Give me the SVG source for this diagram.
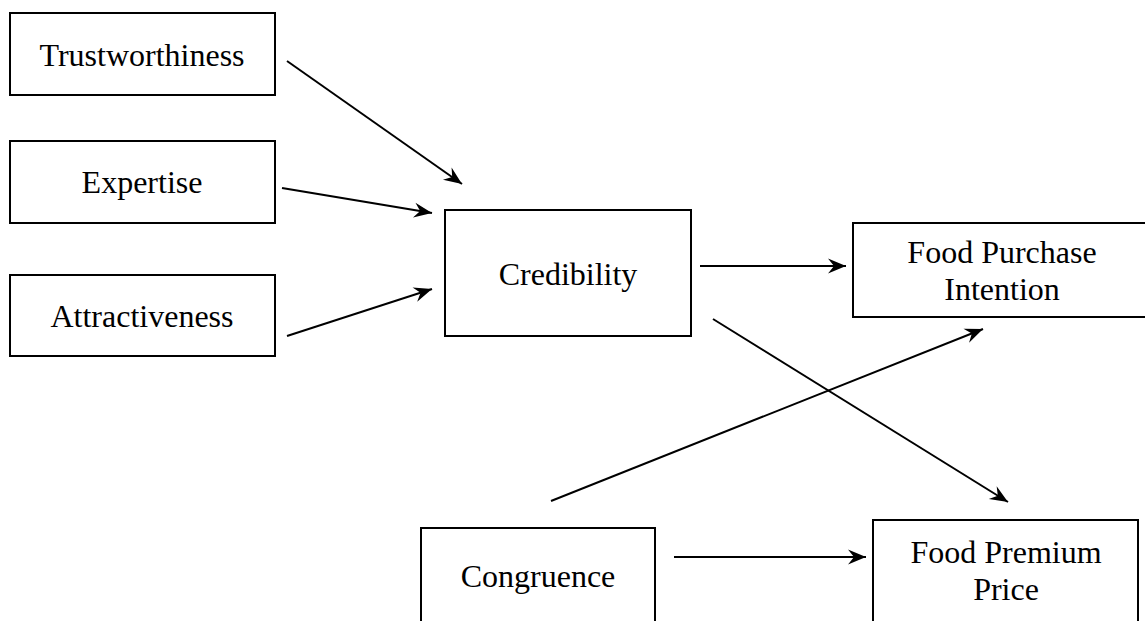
<svg xmlns="http://www.w3.org/2000/svg" width="1145" height="621" viewBox="0 0 1145 621">
<style>
.box{fill:#fff;stroke:#000;stroke-width:2}
.lbl{font-family:"Liberation Serif","Times New Roman",serif;font-size:32px;fill:#000;text-anchor:middle}
.edge{stroke:#000;stroke-width:2;fill:none;marker-end:url(#ah)}
</style>
<defs>
<marker id="ah" markerUnits="userSpaceOnUse" markerWidth="22" markerHeight="18" viewBox="-20 -9 22 18" refX="0" refY="0" orient="auto">
<path d="M0,0 L-18,-7.5 L-12,0 L-18,7.5 Z" fill="#000"/>
</marker>
</defs>
<g id="trustworthiness"><rect class="box" x="10" y="13" width="265" height="82"/><text class="lbl" x="142" y="66">Trustworthiness</text></g>
<g id="expertise"><rect class="box" x="10" y="141" width="265" height="82"/><text class="lbl" x="142" y="193">Expertise</text></g>
<g id="attractiveness"><rect class="box" x="10" y="275" width="265" height="81"/><text class="lbl" x="142" y="327">Attractiveness</text></g>
<g id="credibility"><rect class="box" x="445" y="210" width="246" height="126"/><text class="lbl" x="568" y="285">Credibility</text></g>
<g id="food-purchase-intention"><rect class="box" x="853" y="223" width="298" height="94"/><text class="lbl" x="1002" y="263">Food Purchase</text><text class="lbl" x="1002" y="300">Intention</text></g>
<g id="congruence"><rect class="box" x="421" y="528" width="234" height="100"/><text class="lbl" x="538" y="587">Congruence</text></g>
<g id="food-premium-price"><rect class="box" x="873" y="520" width="265" height="110"/><text class="lbl" x="1006" y="563">Food Premium</text><text class="lbl" x="1006" y="600">Price</text></g>
<g id="connectors">
<line class="edge" x1="287" y1="61" x2="462" y2="184"/>
<line class="edge" x1="282" y1="188" x2="432" y2="213"/>
<line class="edge" x1="287" y1="336" x2="432" y2="289"/>
<line class="edge" x1="700" y1="266" x2="846" y2="266"/>
<line class="edge" x1="713" y1="319" x2="1008" y2="502"/>
<line class="edge" x1="551" y1="501" x2="983" y2="329"/>
<line class="edge" x1="674" y1="557" x2="866" y2="557"/>
</g>
</svg>
